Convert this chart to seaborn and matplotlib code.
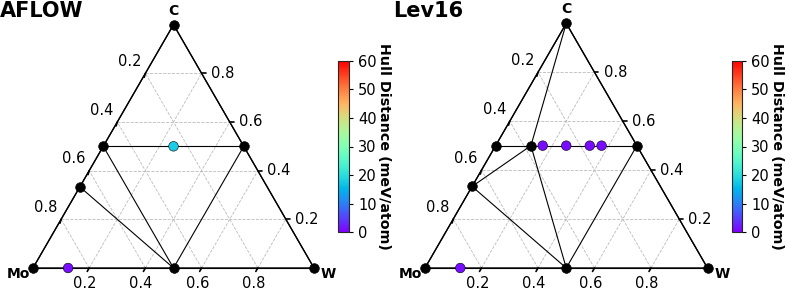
import numpy as np
import pandas as pd
import matplotlib
matplotlib.use("Agg")
import matplotlib.pyplot as plt
import seaborn as sns
from matplotlib.colors import Normalize
from matplotlib.cm import ScalarMappable

sns.set_style("white")
plt.rcParams['font.family'] = ['DejaVu Sans']
plt.rcParams['text.color'] = 'black'
plt.rcParams['xtick.color'] = 'black'
plt.rcParams['ytick.color'] = 'black'
plt.rcParams['axes.labelcolor'] = 'black'

# ---- data (fractions Mo, W, C) ----
titles = ["AFLOW", "Lev16"]
corner_labels = ["Mo", "W", "C"]
tick_values = [0.2, 0.4, 0.6, 0.8]
cbar_ticks = [0, 10, 20, 30, 40, 50, 60]
hull_max = 60

# AFLOW
aflow_stable_mo = [1.0, 0.0, 0.0, 2/3, 0.5, 0.0, 0.5]
aflow_stable_w = [0.0, 1.0, 0.0, 0.0, 0.0, 0.5, 0.5]
aflow_stable_c = [0.0, 0.0, 1.0, 1/3, 0.5, 0.5, 0.0]
aflow_unstable_mo = [0.25, 0.875]
aflow_unstable_w = [0.25, 0.125]
aflow_unstable_c = [0.5, 0.0]
aflow_unstable_hull = [18.0, 1.0]
# tie lines as index pairs into stable list
aflow_ties = [(0, 6), (6, 1), (0, 3), (3, 4), (4, 2), (4, 5), (5, 2), (5, 1),
              (3, 6), (4, 6), (5, 6)]

# Lev16
lev_stable_mo = [1.0, 0.0, 0.0, 2/3, 0.5, 0.0, 0.5, 0.375]
lev_stable_w = [0.0, 1.0, 0.0, 0.0, 0.0, 0.5, 0.5, 0.125]
lev_stable_c = [0.0, 0.0, 1.0, 1/3, 0.5, 0.5, 0.0, 0.5]
lev_unstable_mo = [1/3, 0.25, 1/6, 0.125, 0.875]
lev_unstable_w = [1/6, 0.25, 1/3, 0.375, 0.125]
lev_unstable_c = [0.5, 0.5, 0.5, 0.5, 0.0]
lev_unstable_hull = [1.0, 1.0, 1.0, 1.0, 1.0]
lev_ties = [(0, 6), (6, 1), (0, 3), (3, 4), (4, 2), (4, 7), (7, 5), (5, 2),
            (5, 1), (7, 2), (3, 7), (7, 6), (3, 6), (5, 6)]

SQ = np.sqrt(3) / 2


def cart(w, c):
    w = np.asarray(w, float)
    c = np.asarray(c, float)
    return w + c / 2, c * SQ


fig = plt.figure(figsize=(7.89, 2.96), dpi=100)
FW, FH = 789, 296

panels = [
    dict(title=titles[0], mo0=33, width=281, base=268, ax_px=(0, 332),
         smo=aflow_stable_mo, sw=aflow_stable_w, sc=aflow_stable_c,
         umo=aflow_unstable_mo, uw=aflow_unstable_w, uc=aflow_unstable_c,
         uh=aflow_unstable_hull, ties=aflow_ties, cb=(338, 349), tx=0),
    dict(title=titles[1], mo0=425, width=282.5, base=268, ax_px=(393, 725),
         smo=lev_stable_mo, sw=lev_stable_w, sc=lev_stable_c,
         umo=lev_unstable_mo, uw=lev_unstable_w, uc=lev_unstable_c,
         uh=lev_unstable_hull, ties=lev_ties, cb=(732, 742), tx=393),
]

norm = Normalize(0, hull_max)
cmap = plt.get_cmap("rainbow")

for p in panels:
    x0, x1 = p["ax_px"]
    ax = fig.add_axes([x0 / FW, 0, (x1 - x0) / FW, 1])
    s = p["width"]
    ax.axis("off")

    # grid
    for t in tick_values:
        xa, ya = cart([0, 1 - t], [t, t])
        ax.plot(xa, ya, ls="--", color="#bbbbbb", lw=0.6, zorder=1)
        xa, ya = cart([t, t], [0, 1 - t])
        ax.plot(xa, ya, ls="--", color="#bbbbbb", lw=0.6, zorder=1)
        xa, ya = cart([1 - t, 0], [0, 1 - t])
        ax.plot(xa, ya, ls="--", color="#bbbbbb", lw=0.6, zorder=1)

    # boundary
    xa, ya = cart([0, 1, 0, 0], [0, 0, 1, 0])
    ax.plot(xa, ya, color="black", lw=1.0, zorder=2)

    # ticks and labels
    tl = 0.014
    for t in tick_values:
        bx, by = cart([t], [0])
        ax.plot([bx[0], bx[0] - 0.5 * tl], [by[0], by[0] - SQ * tl], color="black", lw=1.2, zorder=2)
        ax.text(bx[0] - 0.015, by[0] - 0.055, f"{t:.1f}", ha="center", va="center", fontsize=10.5)
        rx, ry = cart([1 - t], [t])
        ax.plot([rx[0], rx[0] + tl], [ry[0], ry[0]], color="black", lw=1.2, zorder=2)
        ax.text(rx[0] + 0.032, ry[0], f"{t:.1f}", ha="left", va="center", fontsize=10.5)
        lx, ly = cart([0], [1 - t])
        ax.plot([lx[0], lx[0] - 0.3 * tl], [ly[0], ly[0] - tl], color="black", lw=1.2, zorder=2)
        ax.text(lx[0] - 0.055, ly[0] + 0.042, f"{t:.1f}", ha="center", va="center", fontsize=10.5)

    # corner labels
    ax.text(0.5, SQ + 0.05, corner_labels[2], ha="center", va="center", fontsize=10, fontweight="bold")
    ax.text(-0.01, -0.022, corner_labels[0], ha="right", va="center", fontsize=10, fontweight="bold")
    ax.text(1.025, -0.022, corner_labels[1], ha="left", va="center", fontsize=10, fontweight="bold")

    # tie lines
    sx, sy = cart(p["sw"], p["sc"])
    for i, j in p["ties"]:
        ax.plot([sx[i], sx[j]], [sy[i], sy[j]], color="black", lw=0.8, zorder=3)

    # stable points
    df_s = pd.DataFrame({"x": sx, "y": sy})
    sns.scatterplot(data=df_s, x="x", y="y", color="black", s=48, edgecolor="black",
                    linewidth=0.5, ax=ax, zorder=5, legend=False)
    # unstable points
    ux, uy = cart(p["uw"], p["uc"])
    df_u = pd.DataFrame({"x": ux, "y": uy, "hull": p["uh"]})
    sns.scatterplot(data=df_u, x="x", y="y", hue="hull", palette="rainbow", hue_norm=(0, hull_max),
                    s=48, edgecolor="black", linewidth=0.4, ax=ax, zorder=6, legend=False)
    ax.set_xlabel("")
    ax.set_ylabel("")
    ax.set_xlim((x0 - p["mo0"]) / s, (x1 - p["mo0"]) / s)
    ax.set_ylim((p["base"] - FH) / s, p["base"] / s)

    # title
    fig.text(p["tx"] / FW, 1 - 1 / FH, p["title"], ha="left", va="top", fontsize=15, fontweight="bold")

    # colorbar
    c0, c1 = p["cb"]
    cax = fig.add_axes([c0 / FW, (FH - 232) / FH, (c1 - c0) / FW, 171 / FH])
    cb = fig.colorbar(ScalarMappable(norm=norm, cmap=cmap), cax=cax, ticks=cbar_ticks)
    cb.ax.tick_params(labelsize=10.5, length=3, width=0.8, colors="black")
    cb.outline.set_linewidth(0.8)
    cb.set_label("Hull Distance (meV/atom)", rotation=270, fontsize=10.3, fontweight="bold",
                 labelpad=10, color="black")

fig.savefig("out.png", dpi=100)
